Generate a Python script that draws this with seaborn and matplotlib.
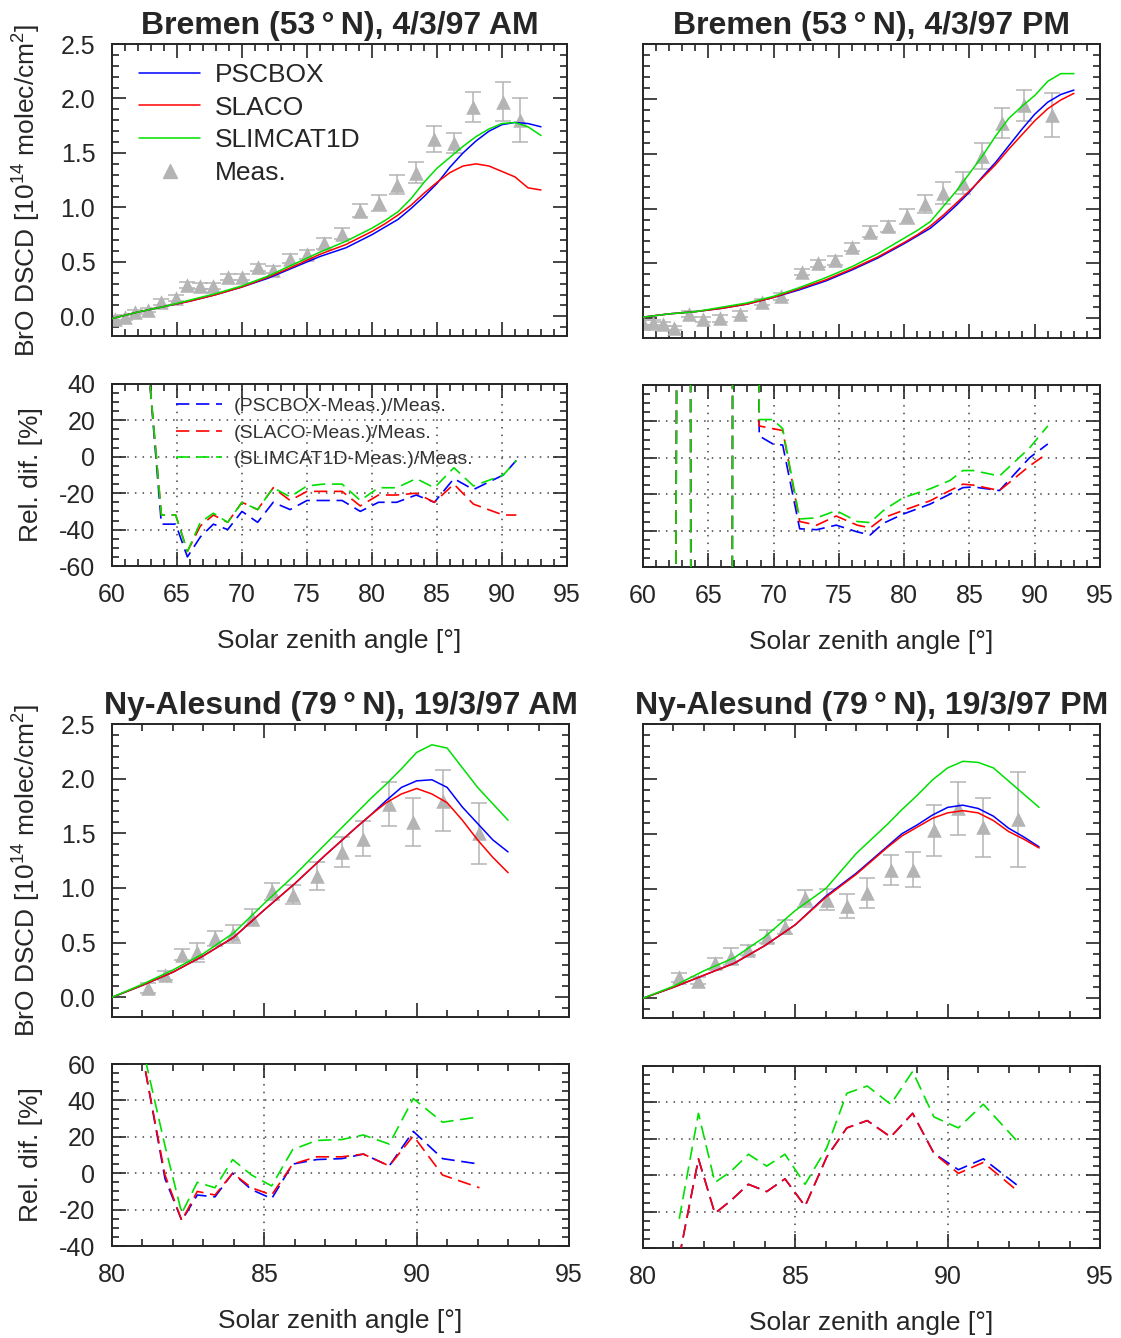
import numpy as np
import pandas as pd
import matplotlib
matplotlib.use("Agg")
import matplotlib.pyplot as plt
import seaborn as sns
from matplotlib.ticker import MultipleLocator
from matplotlib.lines import Line2D

sns.set_style("ticks")
plt.rcParams["font.family"] = ["Liberation Sans", "DejaVu Sans"]
plt.rcParams["mathtext.default"] = "regular"
plt.rcParams["axes.unicode_minus"] = False

# ---------------- data ----------------
# Bremen model grid (SZA)
bre_sza = [60, 62, 64, 66, 68, 70, 72, 74, 76, 78, 80, 81, 82, 83, 84, 85, 86, 87, 88, 89, 90, 91, 92, 93]
bam_pscbox = [-0.02, 0.04, 0.09, 0.14, 0.20, 0.27, 0.35, 0.45, 0.55, 0.63, 0.75, 0.82, 0.89, 0.99, 1.10, 1.22, 1.37, 1.50, 1.61, 1.70, 1.76, 1.78, 1.77, 1.74]
bam_slaco = [-0.02, 0.04, 0.09, 0.14, 0.20, 0.27, 0.36, 0.46, 0.57, 0.66, 0.78, 0.85, 0.93, 1.02, 1.13, 1.23, 1.32, 1.38, 1.40, 1.38, 1.33, 1.28, 1.18, 1.16]
bam_slimcat = [-0.02, 0.04, 0.09, 0.15, 0.21, 0.28, 0.37, 0.48, 0.59, 0.69, 0.81, 0.88, 0.96, 1.08, 1.23, 1.36, 1.46, 1.56, 1.65, 1.72, 1.77, 1.78, 1.74, 1.66]

bpm_pscbox = [0.01, 0.04, 0.06, 0.09, 0.13, 0.19, 0.26, 0.34, 0.44, 0.55, 0.68, 0.75, 0.82, 0.92, 1.03, 1.15, 1.29, 1.42, 1.57, 1.72, 1.86, 1.97, 2.04, 2.08]
bpm_slaco = [0.01, 0.04, 0.06, 0.09, 0.13, 0.19, 0.27, 0.35, 0.45, 0.56, 0.69, 0.76, 0.84, 0.94, 1.05, 1.16, 1.28, 1.40, 1.54, 1.67, 1.80, 1.91, 1.99, 2.05]
bpm_slimcat = [0.01, 0.04, 0.06, 0.10, 0.14, 0.20, 0.28, 0.37, 0.47, 0.59, 0.73, 0.80, 0.88, 1.02, 1.16, 1.32, 1.48, 1.66, 1.82, 1.93, 2.03, 2.16, 2.23, 2.23]

# Bremen measurements
bam_x = [60.2, 61.0, 61.8, 62.8, 63.8, 64.9, 65.8, 66.8, 67.8, 68.9, 70.0, 71.2, 72.4, 73.7, 75.0, 76.3, 77.7, 79.1, 80.5, 81.9, 83.4, 84.8, 86.3, 87.8, 90.1, 91.4]
bam_y = [-0.02, -0.01, 0.04, 0.06, 0.13, 0.17, 0.29, 0.28, 0.28, 0.36, 0.36, 0.45, 0.43, 0.53, 0.57, 0.67, 0.76, 0.97, 1.04, 1.21, 1.32, 1.63, 1.59, 1.92, 1.97, 1.80]
bam_e = [0.02, 0.02, 0.02, 0.02, 0.03, 0.03, 0.03, 0.03, 0.03, 0.03, 0.03, 0.03, 0.03, 0.04, 0.04, 0.05, 0.05, 0.06, 0.07, 0.09, 0.10, 0.12, 0.09, 0.14, 0.18, 0.20]

bpm_x = [60.0, 60.8, 61.5, 62.4, 63.5, 64.6, 65.9, 67.4, 69.1, 70.6, 72.2, 73.4, 74.7, 76.0, 77.4, 78.8, 80.2, 81.6, 83.0, 84.5, 86.0, 87.5, 89.2, 91.3]
bpm_y = [-0.04, -0.04, -0.05, -0.09, 0.04, -0.01, 0.0, 0.04, 0.15, 0.20, 0.42, 0.50, 0.53, 0.65, 0.79, 0.84, 0.93, 1.04, 1.14, 1.23, 1.48, 1.78, 1.94, 1.85]
bpm_e = [0.02, 0.02, 0.02, 0.02, 0.03, 0.02, 0.03, 0.03, 0.03, 0.03, 0.03, 0.03, 0.04, 0.04, 0.05, 0.05, 0.07, 0.08, 0.10, 0.10, 0.12, 0.14, 0.14, 0.20]

# Bremen relative differences [%]
bam_rd_x = [62.8, 63.8, 64.9, 65.8, 66.8, 67.8, 68.9, 70.0, 71.2, 72.4, 73.7, 75.0, 76.3, 77.7, 79.1, 80.5, 81.9, 83.4, 84.8, 86.3, 87.8, 90.1, 91.1]
bam_rd_pscbox = [50, -37, -37, -55, -44, -37, -40, -30, -36, -25, -29, -24, -24, -24, -30, -25, -25, -21, -25, -12, -18, -10, -2]
bam_rd_slaco = [50, -32, -32, -52, -38, -32, -36, -25, -29, -17, -24, -19, -19, -19, -27, -21, -21, -20, -25, -15, -26, -32, -32]
bam_rd_slimcat = [50, -32, -32, -52, -36, -31, -36, -25, -29, -17, -22, -16, -15, -15, -24, -17, -17, -12, -17, -6, -16, -10, -2]

bpm_rd_x = [62.4, 62.7, 63.6, 63.7, 66.8, 66.9, 68.8, 68.9, 69.95, 70.7, 72.0, 73.3, 74.8, 76.4, 77.4, 78.4, 79.9, 82.0, 83.5, 84.5, 85.3, 87.3, 89.6, 91.0]
bpm_rd_pscbox = [-300, 300, 300, -300, -300, 300, 300, 12, 7.6, 7, -39, -39.5, -37, -40.7, -42.4, -36, -31, -25.4, -20, -16.4, -16, -18, 0, 7.6]
bpm_rd_slaco = [-300, 300, 300, -300, -300, 300, 300, 17.5, 16, 15, -35, -37, -32, -37, -38.5, -33, -29, -23.6, -18, -14.5, -15, -18, -4.5, 2.6]
bpm_rd_slimcat = [-300, 300, 300, -300, -300, 300, 300, 21, 21, 16, -33.6, -33, -29, -35, -35.6, -29, -22, -17, -12.5, -7, -7, -10, 5.4, 17.5]

# Ny-Alesund model grid
ny_sza = [80, 81, 82, 83, 84, 85, 86, 87, 88, 88.5, 89, 89.5, 90, 90.5, 91, 91.5, 92, 92.5, 93]
nam_pscbox = [0.0, 0.11, 0.23, 0.38, 0.55, 0.80, 1.04, 1.30, 1.55, 1.67, 1.80, 1.92, 1.98, 1.99, 1.92, 1.74, 1.59, 1.44, 1.33]
nam_slaco = [0.0, 0.11, 0.23, 0.38, 0.55, 0.80, 1.04, 1.30, 1.55, 1.67, 1.78, 1.86, 1.91, 1.86, 1.78, 1.62, 1.44, 1.28, 1.14]
nam_slimcat = [0.0, 0.12, 0.25, 0.40, 0.59, 0.86, 1.12, 1.40, 1.68, 1.82, 1.95, 2.09, 2.24, 2.31, 2.28, 2.10, 1.92, 1.77, 1.62]

npm_pscbox = [0.0, 0.10, 0.21, 0.32, 0.48, 0.67, 0.93, 1.14, 1.38, 1.50, 1.58, 1.67, 1.74, 1.76, 1.73, 1.66, 1.55, 1.47, 1.38]
npm_slaco = [0.0, 0.10, 0.21, 0.32, 0.48, 0.67, 0.92, 1.13, 1.37, 1.48, 1.56, 1.64, 1.69, 1.71, 1.69, 1.62, 1.52, 1.45, 1.37]
npm_slimcat = [0.0, 0.11, 0.25, 0.37, 0.56, 0.80, 1.00, 1.32, 1.58, 1.72, 1.85, 1.99, 2.10, 2.16, 2.15, 2.10, 1.98, 1.86, 1.74]

# Ny-Alesund measurements
nam_x = [81.19, 81.74, 82.29, 82.80, 83.38, 83.96, 84.58, 85.24, 85.93, 86.72, 87.54, 88.25, 89.10, 89.89, 90.85, 92.06]
nam_y = [0.085, 0.20, 0.39, 0.41, 0.54, 0.58, 0.73, 0.97, 0.94, 1.11, 1.33, 1.45, 1.77, 1.60, 1.80, 1.50]
nam_e = [0.05, 0.04, 0.05, 0.09, 0.07, 0.08, 0.08, 0.08, 0.09, 0.13, 0.14, 0.16, 0.20, 0.22, 0.28, 0.28]

npm_x = [81.19, 81.82, 82.36, 82.88, 83.46, 84.06, 84.66, 85.32, 86.03, 86.69, 87.36, 88.13, 88.85, 89.55, 90.35, 91.17, 92.32]
npm_y = [0.19, 0.16, 0.32, 0.38, 0.44, 0.56, 0.65, 0.91, 0.90, 0.84, 0.96, 1.17, 1.17, 1.53, 1.73, 1.56, 1.63]
npm_e = [0.04, 0.03, 0.05, 0.08, 0.05, 0.06, 0.06, 0.08, 0.10, 0.11, 0.14, 0.14, 0.16, 0.23, 0.24, 0.27, 0.43]

# Ny-Alesund relative differences [%]
nam_rd_x = [81.1, 81.74, 82.29, 82.80, 83.38, 83.96, 84.58, 85.24, 85.93, 86.72, 87.54, 88.25, 89.10, 89.89, 90.85, 92.06]
nam_rd_pscbox = [56, -3, -26, -12, -13, 0, -9, -14, 5, 7.5, 8, 10.5, 4, 23, 8, 5]
nam_rd_slaco = [56, -1, -26, -10, -12, 0, -8, -12, 5, 9, 9, 10.5, 4, 20.5, -1, -8]
nam_rd_slimcat = [62, 15, -22, -5, -8, 7.5, -1, -7, 13, 18, 18.5, 21, 16, 41, 28, 31]

npm_rd_x = [81.19, 81.82, 82.36, 82.88, 83.46, 84.06, 84.66, 85.32, 86.03, 86.69, 87.36, 88.13, 88.85, 89.55, 90.35, 91.17, 92.32]
npm_rd_pscbox = [-45, 9, -21, -14, -5, -9, -2, -17, 10, 26, 30, 21, 34, 12, 3, 9, -6]
npm_rd_slaco = [-45, 9, -21, -14, -5, -9, -2, -17, 10, 26, 30, 21, 34, 12, 1, 7, -9]
npm_rd_slimcat = [-24, 34, -4, 2, 11.5, 5, 11.5, -5, 15, 45, 49, 39, 57, 32, 26, 39, 18]

models = ["PSCBOX", "SLACO", "SLIMCAT1D"]
colors = {"PSCBOX": "#0000ff", "SLACO": "#ff0000", "SLIMCAT1D": "#00e000"}
gray = "#b4b4b4"

titles = ["Bremen (53\u2009°\u2009N), 4/3/97 AM", "Bremen (53\u2009°\u2009N), 4/3/97 PM",
          "Ny-Alesund (79\u2009°\u2009N), 19/3/97 AM", "Ny-Alesund (79\u2009°\u2009N), 19/3/97 PM"]

# ---------------- figure ----------------
W, H = 1121, 1338
fig = plt.figure(figsize=(W / 100, H / 100), dpi=100, facecolor="white")


def add_ax(l, t, r, b):
    return fig.add_axes([l / W, 1 - b / H, (r - l) / W, (b - t) / H])


TICK = 18
LAB = 19


def style(ax, xmaj, xmin, ymaj, ymin, xlim, ylim, grid=False):
    ax.set_xlim(*xlim)
    ax.set_ylim(*ylim)
    ax.xaxis.set_major_locator(MultipleLocator(xmaj))
    ax.xaxis.set_minor_locator(MultipleLocator(xmin))
    ax.yaxis.set_major_locator(MultipleLocator(ymaj))
    ax.yaxis.set_minor_locator(MultipleLocator(ymin))
    ax.tick_params(which="both", direction="in", top=True, right=True, labelsize=TICK, width=1.2)
    ax.tick_params(which="major", length=10, pad=12)
    ax.tick_params(which="minor", length=5)
    for s in ax.spines.values():
        s.set_linewidth(1.4)
    if grid:
        ax.grid(True, which="major", color="#444444", linestyle=(0, (1, 4)), linewidth=1.1)
    ax.set_xlabel("")
    ax.set_ylabel("")


def draw_main(ax, sza, vals, mx, my, me):
    for m, v in zip(models, vals):
        sns.lineplot(x=sza, y=v, ax=ax, color=colors[m], linewidth=1.1, zorder=3)
    ax.errorbar(mx, my, yerr=me, fmt="none", ecolor=gray, elinewidth=1.1, capsize=6, capthick=1.1, zorder=2)
    sns.scatterplot(x=mx, y=my, ax=ax, marker="^", s=110, color=gray, edgecolor=gray, linewidth=0, zorder=2)


def draw_rd(ax, x, vals):
    for m, v in zip(models, vals):
        sns.lineplot(x=x, y=v, ax=ax, color=colors[m], linewidth=1.2, linestyle=(0, (8, 4)), zorder=3)


# top row (Bremen)
ax1 = add_ax(112, 44, 567, 336)
ax2 = add_ax(643, 44, 1100, 338)
ax3 = add_ax(112, 384, 567, 566)
ax4 = add_ax(643, 385, 1100, 567)
# bottom row (Ny-Alesund)
ax5 = add_ax(112, 724, 569, 1017)
ax6 = add_ax(643, 724, 1100, 1018)
ax7 = add_ax(112, 1064, 569, 1246)
ax8 = add_ax(643, 1066, 1100, 1248)

draw_main(ax1, bre_sza, [bam_pscbox, bam_slaco, bam_slimcat], bam_x, bam_y, bam_e)
draw_main(ax2, bre_sza, [bpm_pscbox, bpm_slaco, bpm_slimcat], bpm_x, bpm_y, bpm_e)
draw_rd(ax3, bam_rd_x, [bam_rd_pscbox, bam_rd_slaco, bam_rd_slimcat])
draw_rd(ax4, bpm_rd_x, [bpm_rd_pscbox, bpm_rd_slaco, bpm_rd_slimcat])
draw_main(ax5, ny_sza, [nam_pscbox, nam_slaco, nam_slimcat], nam_x, nam_y, nam_e)
draw_main(ax6, ny_sza, [npm_pscbox, npm_slaco, npm_slimcat], npm_x, npm_y, npm_e)
draw_rd(ax7, nam_rd_x, [nam_rd_pscbox, nam_rd_slaco, nam_rd_slimcat])
draw_rd(ax8, npm_rd_x, [npm_rd_pscbox, npm_rd_slaco, npm_rd_slimcat])

for ax in (ax1, ax2):
    style(ax, 5, 1, 0.5, 0.1, (60, 95), (-0.18, 2.5))
    ax.tick_params(labelbottom=False)
for ax in (ax3, ax4):
    style(ax, 5, 1, 20, 5, (60, 95), (-60, 40), grid=True)
for ax in (ax5, ax6):
    style(ax, 5, 1, 0.5, 0.1, (80, 95), (-0.18, 2.5))
    ax.tick_params(labelbottom=False)
for ax in (ax7, ax8):
    style(ax, 5, 1, 20, 5, (80, 95), (-40, 60), grid=True)
for ax in (ax2, ax4, ax6, ax8):
    ax.tick_params(labelleft=False)

for ax, t in zip((ax1, ax2, ax5, ax6), titles):
    ax.set_title(t, fontsize=23, fontweight="bold", pad=7)

for ax in (ax1, ax5):
    ax.set_ylabel("BrO DSCD [10$^{14}$ molec/cm$^2$]", fontsize=LAB)
    ax.yaxis.set_label_coords(-0.152, 0.5)
for ax in (ax3, ax7):
    ax.set_ylabel("Rel. dif. [%]", fontsize=LAB)
    ax.yaxis.set_label_coords(-0.152, 0.5)
for ax in (ax3, ax4, ax7, ax8):
    ax.set_xlabel("Solar zenith angle [°]", fontsize=LAB)
    ax.xaxis.set_label_coords(0.5, -0.345)

# legends
h_main = [Line2D([], [], color=colors[m], linewidth=1.1) for m in models]
h_main.append(Line2D([], [], color=gray, marker="^", markersize=10, linestyle="none"))
ax1.legend(h_main, models + ["Meas."], loc="upper left", bbox_to_anchor=(0.06, 0.935),
           frameon=False, fontsize=19, handlelength=2.3, handletextpad=0.55,
           labelspacing=0.33, borderpad=0, borderaxespad=0, numpoints=1)

h_rd = [Line2D([], [], color=colors[m], linewidth=1.2, linestyle=(0, (8, 4))) for m in models]
lab_rd = ["(PSCBOX-Meas.)/Meas.", "(SLACO-Meas.)/Meas.", "(SLIMCAT1D-Meas.)/Meas."]
leg = ax3.legend(h_rd, lab_rd, loc="upper left", bbox_to_anchor=(0.14, 0.925),
                 frameon=False, fontsize=14, handlelength=2.4, handletextpad=0.6,
                 labelspacing=0.45, borderpad=0, borderaxespad=0)
for t in leg.get_texts():
    t.set_color("#333333")

fig.savefig("out.png", dpi=100, facecolor="white")
